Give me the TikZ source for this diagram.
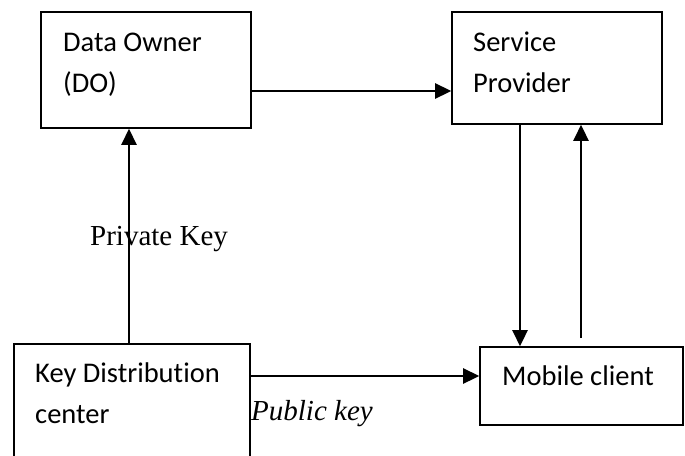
\documentclass[tikz,border=0pt]{standalone}
\usepackage{fontspec}
\setmainfont{Liberation Serif}
\newfontfamily\boxfont[Ligatures=NoCommon]{Carlito}
\usepackage{tikz}
\usetikzlibrary{arrows.meta,positioning,calc}

\begin{document}
\begin{tikzpicture}[x=1pt, y=-1pt,
  box/.style={draw, line width=1.6pt, inner sep=0pt},
  boxtxt/.style={font=\boxfont\fontsize{28.5}{41}\selectfont, align=left, anchor=base west, inner sep=0pt},
  keytxt/.style={font=\fontsize{29}{35}\selectfont, anchor=base west, inner sep=0pt},
  arr/.style={line width=2.6pt, -{Triangle[length=16pt,width=15pt]}}]
\useasboundingbox (0,0) rectangle (685,455);

\node[box, minimum width=210, minimum height=116] (do) at (146,70) {};
\node[box, minimum width=210, minimum height=112] (sp) at (557,68) {};
\node[box, minimum width=203, minimum height=78] (mc) at (581.5,386) {};
\node[box, minimum width=236, minimum height=130] (kdc) at (132,409) {};

\node[boxtxt] (dotxt) at (63,92) {Data Owner\\(DO)};
\node[boxtxt] (sptxt) at (473,92) {Service\\Provider};
\node[boxtxt] (mctxt) at (502,385) {Mobile client};
\node[boxtxt] (kdctxt) at (35,423) {Key Distribution\\center};

\node[keytxt] (priv) at (90,245) {Private Key};
\node[keytxt] (pub) at (251,420) {\itshape Public key};

\draw[arr] ($(do.east)+(0,21)$) -- ($(do.east -| sp.west)+(0,21)$);
\draw[arr] ($(kdc.north)+(-3,0)$) -- ($(kdc.north |- do.south)+(-3,0)$);
\draw[arr] ($(sp.south)+(-37,0)$) -- ($(sp.south |- mc.north)+(-37,0)$);
\draw[arr] ($(sp.south |- mc.north)+(24,-8)$) -- ($(sp.south)+(24,0)$);
\draw[arr] ($(kdc.east)+(0,-33)$) -- ($(kdc.east -| mc.west)+(0,-33)$);

\end{tikzpicture}
\end{document}
